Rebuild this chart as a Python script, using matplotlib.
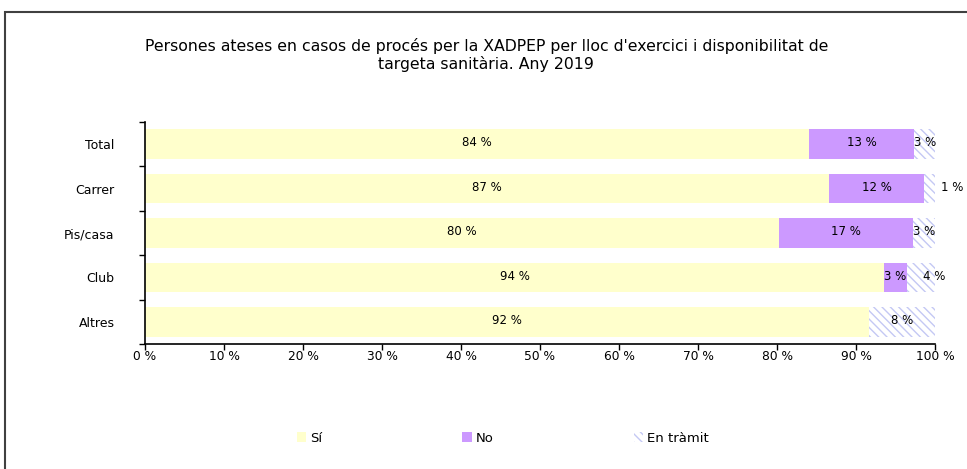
import numpy as np
import matplotlib
matplotlib.use("Agg")
import matplotlib.pyplot as plt
from matplotlib.patches import Rectangle

# data (percentages)
categories = ["Total", "Carrer", "Pis/casa", "Club", "Altres"]
si = [84.0, 86.6, 80.3, 93.6, 91.6]
no = [13.4, 12.0, 16.9, 2.8, 0.0]
tramit = [2.6, 1.4, 2.8, 3.6, 8.4]
series_names = ["Sí", "No", "En tràmit"]
title = ("Persones ateses en casos de procés per la XADPEP per lloc d'exercici i disponibilitat de\n"
         "targeta sanitària. Any 2019")

# small label nudges (points) where the segment is too narrow for its label
tramit_nudge = {"Carrer": 16, "Club": 10}

plt.rcParams["font.family"] = ["DejaVu Sans"]
plt.rcParams["hatch.linewidth"] = 1.0

fig = plt.figure(figsize=(9.67, 4.69), dpi=100)
# outer frame
fig.patches.append(Rectangle((5 / 967, -0.05), 1.2, 1.05 - 12 / 469, transform=fig.transFigure,
                             fill=False, edgecolor="#404040", linewidth=1.5))

ax = fig.add_axes([145 / 967, 1 - 344 / 469, 790 / 967, 222 / 469])

y = np.arange(len(categories))
h = 0.67
left = np.zeros(len(categories))
b1 = ax.barh(y, si, height=h, left=left, color="#ffffcc", linewidth=0, label=series_names[0])
left = left + np.array(si)
b2 = ax.barh(y, no, height=h, left=left, color="#cc99ff", linewidth=0, label=series_names[1])
left = left + np.array(no)
b3 = ax.barh(y, tramit, height=h, left=left, color="white", edgecolor="#c4c8f4",
             hatch="\\\\\\\\", linewidth=0, label=series_names[2])

# value labels
for k, (bars, vals) in enumerate([(b1, si), (b2, no), (b3, tramit)]):
    for cat, bar, v in zip(categories, bars, vals):
        if v <= 0:
            continue
        cx = bar.get_x() + bar.get_width() / 2
        cy = bar.get_y() + bar.get_height() / 2
        dx = tramit_nudge.get(cat, 0) if k == 2 else 0
        ax.annotate(f"{v:.0f} %", (cx, cy), xytext=(dx, 1), textcoords="offset points",
                    ha="center", va="center", fontsize=8.5, color="black")

ax.set_xlim(0, 100)
ax.set_ylim(len(categories) - 0.5, -0.5)
ax.set_xticks(np.arange(0, 101, 10))
ax.set_xticklabels([f"{t} %" for t in range(0, 101, 10)], fontsize=8.8)
ax.set_yticks(y)
ax.set_yticklabels(categories, fontsize=9)
ax.set_yticks(np.arange(-0.5, len(categories)), minor=True)
ax.tick_params(axis="y", which="major", length=0, pad=22)
ax.tick_params(axis="y", which="minor", length=4, direction="out", width=1)
ax.tick_params(axis="x", length=4, direction="out", width=1, pad=0.5)
for s in ["top", "right"]:
    ax.spines[s].set_visible(False)
for s in ["left", "bottom"]:
    ax.spines[s].set_linewidth(1.2)

fig.text(0.503, 0.883, title, ha="center", va="center", fontsize=11.3, linespacing=1.1)

fig.legend(handles=[b1, b2, b3], labels=series_names, loc="center", bbox_to_anchor=(0.52, 0.066),
           ncol=3, frameon=False, fontsize=9.5, handlelength=0.7, handleheight=0.7,
           handletextpad=0.3, columnspacing=10.65)

fig.savefig("out.png", dpi=100)
